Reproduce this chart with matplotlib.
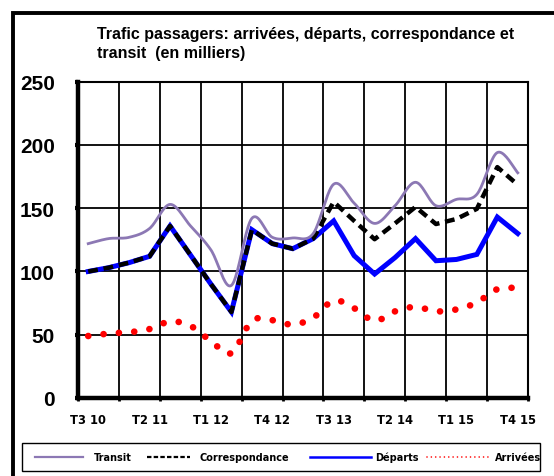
import numpy as np
import matplotlib
matplotlib.use("Agg")
import matplotlib.pyplot as plt
from matplotlib.lines import Line2D
from matplotlib.patches import Rectangle

# ---------------- data ----------------
quarters = ["T3 10", "T4 10", "T1 11", "T2 11", "T3 11", "T4 11",
            "T1 12", "T2 12", "T3 12", "T4 12", "T1 13", "T2 13",
            "T3 13", "T4 13", "T1 14", "T2 14", "T3 14", "T4 14",
            "T1 15", "T2 15", "T3 15", "T4 15"]
transit = [122, 126, 127, 134, 153, 136, 117, 89, 142, 127, 126.5, 130,
           169, 154, 138, 152, 170.5, 152, 157, 161, 194, 178]
correspondance = [100, 103, 107, 112, 136, 113, 90, 68, 133, 122, 118, 126,
                  155, 140, 125.5, 138, 151, 137.5, 141.5, 149.5, 182.5, 168.5]
departs = [100, 103, 107, 112, 136, 113, 90, 68, 133, 122, 118, 126,
           140, 112.5, 98, 111, 126, 108.5, 109.5, 113.5, 143, 130]
arrivees = [49, 51, 52, 54.5, 60.5, 57, 45, 35.5, 61, 61.5, 58, 63.5,
            77, 71, 61, 68.5, 72, 68.5, 70, 75.5, 86, 87]
y_ticks = [0, 50, 100, 150, 200, 250]
label_step = 3
grid_step = 2
title = "Trafic passagers: arrivées, départs, correspondance et\ntransit  (en milliers)"
legend_names = ["Transit", "Correspondance", "Départs", "Arrivées"]

# ---------------- helpers ----------------
W, H = 554, 477


def fx(px):
    return px / W


def fy(py):
    return 1 - py / H


def smooth(x, y, n=20):
    """Excel-like smoothed line (cubic Bezier, Catmull-Rom control points)."""
    x = np.asarray(x, float)
    y = np.asarray(y, float)
    xs, ys = [x[0]], [y[0]]
    m = len(x)
    for i in range(m - 1):
        p0 = np.array([x[i - 1], y[i - 1]]) if i > 0 else np.array([x[i], y[i]])
        p1 = np.array([x[i], y[i]])
        p2 = np.array([x[i + 1], y[i + 1]])
        p3 = np.array([x[i + 2], y[i + 2]]) if i + 2 < m else p2
        c1 = p1 + (p2 - p0) / 6
        c2 = p2 - (p3 - p1) / 6
        t = np.linspace(0, 1, n + 1)[1:, None]
        b = (1 - t) ** 3 * p1 + 3 * (1 - t) ** 2 * t * c1 + 3 * (1 - t) * t ** 2 * c2 + t ** 3 * p2
        xs.extend(b[:, 0])
        ys.extend(b[:, 1])
    return np.array(xs), np.array(ys)


# ---------------- figure ----------------
fig = plt.figure(figsize=(W / 100, H / 100), dpi=100)
fig.patch.set_facecolor("white")

# outer chart border (left and top visible)
fig.add_artist(Line2D([fx(13), fx(13), fx(W + 10)], [fy(H + 10), fy(14), fy(14)],
                      color="black", lw=2.8, solid_joinstyle="miter"))

ax = fig.add_axes([fx(78), fy(399), fx(528) - fx(78), fy(82.7) - fy(399)])
n = len(quarters)
xi = np.arange(n)

# series
ax.plot(xi, departs, color="#0000FF", lw=3.6, zorder=3, solid_joinstyle="miter")
ax.plot(xi, correspondance, color="black", lw=3.2, zorder=4,
        dashes=(2.2, 1.3), dash_capstyle="butt")
sx, sy = smooth(xi, transit)
ax.plot(sx, sy, color="#8C78B4", lw=2.0, zorder=5)
ax2x, ax2y = smooth(xi, arrivees)
ax.plot(ax2x, ax2y, color="#FF0000", lw=4.8, zorder=6,
        dashes=(0.01, 2.3), dash_capstyle="round")

# axes styling
ax.set_xlim(-0.5, n - 0.5)
ax.set_ylim(y_ticks[0], y_ticks[-1])
grid_pos = np.arange(-0.5, n, grid_step)
ax.set_xticks(grid_pos)
ax.set_xticklabels([])
ax.set_xticks(xi[::label_step], [quarters[i] for i in xi[::label_step]], minor=True)
ax.set_yticks(y_ticks)
ax.set_yticklabels([str(v) for v in y_ticks], fontfamily="Liberation Sans",
                   fontweight="bold", fontsize=15)
for lbl in ax.get_xticklabels(minor=True):
    lbl.set_fontfamily("DejaVu Sans")
    lbl.set_fontweight("bold")
    lbl.set_fontsize(8.3)

ax.tick_params(axis="x", which="major", direction="out", length=2.5, width=2, color="black")
ax.tick_params(axis="x", which="minor", length=0, pad=10.5)
ax.tick_params(axis="y", which="major", direction="out", length=2.5, width=3, pad=14)

ax.grid(True, which="major", color="black", lw=1.3)
ax.set_axisbelow(True)
for side in ["top", "right"]:
    ax.spines[side].set_linewidth(1.5)
for side in ["left", "bottom"]:
    ax.spines[side].set_linewidth(3.2)
    ax.spines[side].set_capstyle("projecting")

# title
fig.text(fx(97), fy(44), title, ha="left", va="center", fontfamily="Liberation Sans",
         fontweight="bold", fontsize=11.5, linespacing=1.4)

# legend (manual)
fig.add_artist(Rectangle((fx(22), fy(472)), fx(540) - fx(22), fy(444) - fy(472),
                         fill=False, edgecolor="black", lw=1.0))
ly = fy(458)
leg_font = dict(fontfamily="DejaVu Sans", fontweight="bold", fontsize=7, va="center", ha="left")
fig.add_artist(Line2D([fx(35), fx(83)], [ly, ly], color="#8C78B4", lw=1.6))
fig.text(fx(94), ly, legend_names[0], **leg_font)
fig.add_artist(Line2D([fx(147), fx(190)], [ly, ly], color="black", lw=1.6,
                      dashes=(2.0, 1.0)))
fig.text(fx(200), ly, legend_names[1], **leg_font)
fig.add_artist(Line2D([fx(310), fx(371)], [ly, ly], color="#0000FF", lw=1.8))
fig.text(fx(375), ly, legend_names[2], **leg_font)
fig.add_artist(Line2D([fx(427), fx(488)], [ly, ly], color="#FF0000", lw=1.2,
                      dashes=(0.01, 2.6), dash_capstyle="round"))
fig.text(fx(495), ly, legend_names[3], **leg_font)

fig.savefig("out.png", dpi=100)
